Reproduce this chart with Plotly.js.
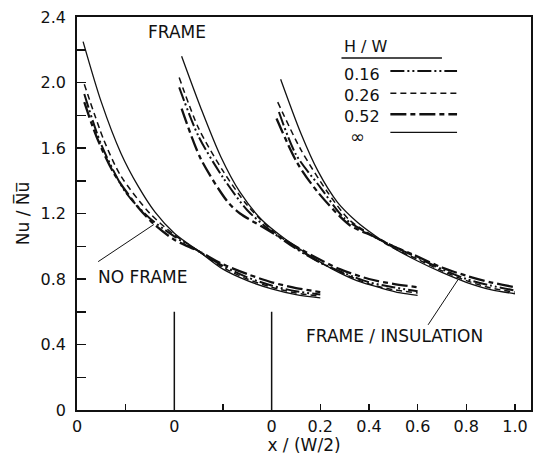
<!DOCTYPE html>
<html>
<head>
<meta charset="utf-8">
<script src="https://cdn.plot.ly/plotly-3.0.1.min.js"></script>
<style>html,body{margin:0;padding:0;background:#fff;}#chart{width:536px;height:455px;}</style>
</head>
<body>
<div id="chart"></div>
<script>
// Panel offsets on the shared x axis (each panel's local x starts at 0)
const panelStarts = [-0.8, -0.4, 0.0];
const panelLabels = ["NO FRAME", "FRAME", "FRAME / INSULATION"];
const seriesNames = ["0.16", "0.26", "0.52", "∞"];

// Panel 1: NO FRAME
const p1_h16_x = [0.03, 0.1, 0.2, 0.3, 0.4, 0.5, 0.6, 0.7, 0.8, 0.9, 1.0];
const p1_h16_y = [1.93, 1.62, 1.33, 1.17, 1.06, 0.97, 0.88, 0.81, 0.76, 0.725, 0.705];
const p1_h26_x = [0.03, 0.11, 0.18, 0.3, 0.4, 0.5, 0.6, 0.7, 0.8, 0.9, 1.0];
const p1_h26_y = [1.99, 1.65, 1.43, 1.2, 1.07, 0.97, 0.87, 0.8, 0.75, 0.715, 0.695];
const p1_h52_x = [0.03, 0.08, 0.15, 0.25, 0.32, 0.4, 0.5, 0.6, 0.7, 0.8, 0.9, 1.0];
const p1_h52_y = [1.88, 1.67, 1.45, 1.24, 1.13, 1.04, 0.97, 0.89, 0.83, 0.78, 0.745, 0.72];
const p1_inf_x = [0.025, 0.1, 0.18, 0.25, 0.32, 0.4, 0.5, 0.6, 0.7, 0.8, 0.9, 1.0];
const p1_inf_y = [2.25, 1.88, 1.57, 1.37, 1.21, 1.08, 0.97, 0.86, 0.79, 0.74, 0.705, 0.685];

// Panel 2: FRAME
const p2_h16_x = [0.02, 0.1, 0.2, 0.3, 0.4, 0.5, 0.6, 0.7, 0.8, 0.9, 1.0];
const p2_h16_y = [1.97, 1.67, 1.42, 1.22, 1.09, 0.985, 0.9, 0.835, 0.78, 0.75, 0.725];
const p2_h26_x = [0.02, 0.1, 0.2, 0.3, 0.4, 0.5, 0.6, 0.7, 0.8, 0.9, 1.0];
const p2_h26_y = [2.03, 1.72, 1.46, 1.25, 1.10, 0.99, 0.9, 0.83, 0.77, 0.735, 0.715];
const p2_h52_x = [0.03, 0.11, 0.22, 0.27, 0.36, 0.44, 0.57, 0.68, 0.8, 0.9, 1.0];
const p2_h52_y = [1.84, 1.53, 1.27, 1.2, 1.12, 1.05, 0.94, 0.86, 0.8, 0.77, 0.75];
const p2_inf_x = [0.03, 0.11, 0.19, 0.27, 0.36, 0.45, 0.55, 0.65, 0.75, 0.85, 0.93, 1.0];
const p2_inf_y = [2.16, 1.84, 1.55, 1.33, 1.16, 1.05, 0.95, 0.86, 0.79, 0.745, 0.715, 0.70];

// Panel 3: FRAME / INSULATION
const p3_h16_x = [0.03, 0.1, 0.2, 0.3, 0.42, 0.5, 0.6, 0.7, 0.8, 0.9, 1.0];
const p3_h16_y = [1.82, 1.56, 1.36, 1.17, 1.06, 1.0, 0.93, 0.86, 0.8, 0.76, 0.73];
const p3_h26_x = [0.025, 0.12, 0.23, 0.32, 0.42, 0.5, 0.6, 0.7, 0.8, 0.9, 1.0];
const p3_h26_y = [1.88, 1.59, 1.33, 1.16, 1.06, 0.99, 0.92, 0.85, 0.79, 0.745, 0.72];
const p3_h52_x = [0.02, 0.105, 0.19, 0.32, 0.42, 0.5, 0.58, 0.7, 0.8, 0.9, 1.0];
const p3_h52_y = [1.78, 1.51, 1.33, 1.13, 1.06, 1.0, 0.95, 0.87, 0.82, 0.78, 0.75];
const p3_inf_x = [0.037, 0.12, 0.19, 0.27, 0.35, 0.42, 0.5, 0.6, 0.7, 0.8, 0.9, 1.0];
const p3_inf_y = [2.02, 1.69, 1.46, 1.27, 1.15, 1.07, 0.99, 0.91, 0.84, 0.78, 0.735, 0.71];

// Axis ticks
const xTickVals = [-0.8, -0.6, -0.4, -0.2, 0, 0.2, 0.4, 0.6, 0.8, 1.0];
const xTickText = ["0", "", "0", "", "0", "0.2", "0.4", "0.6", "0.8", "1.0"];
const yTickVals = [0, 0.2, 0.4, 0.6, 0.8, 1.0, 1.2, 1.4, 1.6, 1.8, 2.0, 2.2, 2.4];
const yTickText = ["0", "", "0.4", "", "0.8", "", "1.2", "", "1.6", "", "2.0", "", "2.4"];

const panels = [
  [[p1_h16_x, p1_h16_y], [p1_h26_x, p1_h26_y], [p1_h52_x, p1_h52_y], [p1_inf_x, p1_inf_y]],
  [[p2_h16_x, p2_h16_y], [p2_h26_x, p2_h26_y], [p2_h52_x, p2_h52_y], [p2_inf_x, p2_inf_y]],
  [[p3_h16_x, p3_h16_y], [p3_h26_x, p3_h26_y], [p3_h52_x, p3_h52_y], [p3_inf_x, p3_inf_y]]
];

const styles = [
  {dash: "14px,3px,2px,3px,2px,3px", width: 2.0},
  {dash: "6px,4px", width: 1.5},
  {dash: "16px,4px,5px,4px", width: 2.3},
  {dash: "solid", width: 1.3}
];
const ink = "#111";

const traces = [];
panels.forEach((panel, pi) => {
  panel.forEach((s, si) => {
    traces.push({
      x: s[0].map(v => v + panelStarts[pi]),
      y: s[1],
      type: "scatter",
      mode: "lines",
      name: seriesNames[si],
      showlegend: false,
      line: {color: ink, width: styles[si].width, dash: styles[si].dash, shape: "spline", smoothing: 0.8}
    });
  });
});

const fam = "DejaVu Sans, Liberation Sans, sans-serif";
const font = {family: fam, size: 16, color: ink};
const bigFont = {family: fam, size: 17, color: ink};

const shapes = [];
// panel separators
[panelStarts[1], panelStarts[2]].forEach(x0 => {
  shapes.push({type: "line", xref: "x", yref: "y", x0: x0, x1: x0, y0: 0, y1: 0.6, line: {color: ink, width: 1.5}});
});
// label pointers
shapes.push({type: "line", xref: "x", yref: "y", x0: -0.713, y0: 0.906, x1: -0.484, y1: 1.133, line: {color: ink, width: 1}});
shapes.push({type: "line", xref: "x", yref: "y", x0: 0.643, y0: 0.52, x1: 0.766, y1: 0.796, line: {color: ink, width: 1}});

// legend block
const legX0 = 0.488, legX1 = 0.762;
const legRowsY = [2.07, 1.935, 1.806, 1.696];
shapes.push({type: "line", xref: "x", yref: "y", x0: 0.287, x1: 0.70, y0: 2.149, y1: 2.149, line: {color: ink, width: 1.5}});
legRowsY.forEach((yy, i) => {
  shapes.push({type: "line", xref: "x", yref: "y", x0: legX0, x1: legX1, y0: yy, y1: yy,
    line: {color: ink, width: styles[i].width, dash: styles[i].dash}});
});

const annotations = [
  {x: 0.291, y: 2.217, text: "H / W", xanchor: "left", yanchor: "middle"},
  {x: 0.291, y: 2.05, text: seriesNames[0], xanchor: "left", yanchor: "middle"},
  {x: 0.291, y: 1.92, text: seriesNames[1], xanchor: "left", yanchor: "middle"},
  {x: 0.291, y: 1.795, text: seriesNames[2], xanchor: "left", yanchor: "middle"},
  {x: 0.352, y: 1.672, text: seriesNames[3], xanchor: "center", yanchor: "middle", font: {family: fam, size: 18, color: ink}},
  {x: -0.529, y: 0.81, text: panelLabels[0], xanchor: "center", yanchor: "middle", font: bigFont},
  {x: -0.389, y: 2.31, text: panelLabels[1], xanchor: "center", yanchor: "middle", font: bigFont},
  {x: 0.504, y: 0.453, text: panelLabels[2], xanchor: "center", yanchor: "middle", font: bigFont}
].map(a => Object.assign({xref: "x", yref: "y", showarrow: false, font: font}, a));

const layout = {
  width: 536, height: 455,
  margin: {l: 77, r: 5, t: 17, b: 45},
  paper_bgcolor: "#fff", plot_bgcolor: "#fff",
  font: font,
  showlegend: false,
  xaxis: {
    range: [-0.8, 1.066], tickvals: xTickVals, ticktext: xTickText,
    ticks: "inside", ticklen: 6, tickwidth: 1.5, tickcolor: ink,
    showline: true, mirror: true, linecolor: ink, linewidth: 1.8,
    showgrid: false, zeroline: false, ticklabelstandoff: 1,
    tickfont: font,
    title: {text: "x / (W/2)", font: bigFont, standoff: 4}
  },
  yaxis: {
    range: [0, 2.4], tickvals: yTickVals, ticktext: yTickText,
    ticks: "inside", ticklen: 9, tickwidth: 1.5, tickcolor: ink,
    showline: true, mirror: true, linecolor: ink, linewidth: 1.8,
    showgrid: false, zeroline: false, ticklabelstandoff: 6,
    tickfont: font,
    title: {text: "Nu / N\u0305u\u0305", font: bigFont, standoff: 6}
  },
  shapes: shapes,
  annotations: annotations
};

Plotly.newPlot("chart", traces, layout, {displayModeBar: false, staticPlot: true});
</script>
</body>
</html>
